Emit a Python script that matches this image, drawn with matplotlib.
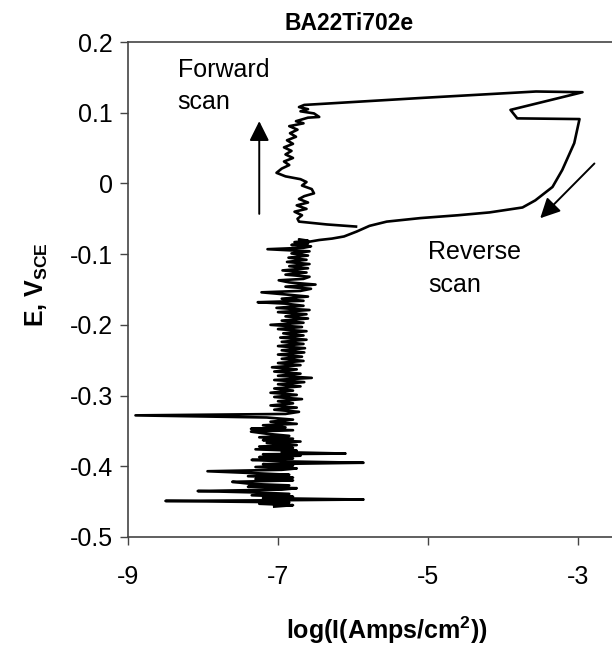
import matplotlib
matplotlib.use('Agg')
import matplotlib.pyplot as plt

# polarisation scan, potential (V vs SCE) and log current density
# lower noisy column, read bottom -> top
e_column = [-0.457, -0.455, -0.453, -0.451, -0.449, -0.448, -0.447, -0.445, -0.443, -0.441,
            -0.439, -0.437, -0.435, -0.433, -0.431, -0.429, -0.427, -0.425, -0.422, -0.420,
            -0.418, -0.416, -0.414, -0.412, -0.410, -0.407, -0.405, -0.403, -0.401, -0.399,
            -0.397, -0.395, -0.393, -0.391, -0.389, -0.387, -0.385, -0.383, -0.382, -0.380,
            -0.378, -0.376, -0.374, -0.372, -0.370, -0.367, -0.365, -0.363, -0.361, -0.359,
            -0.357, -0.354, -0.351, -0.349, -0.347, -0.345, -0.342, -0.340, -0.337, -0.334,
            -0.331, -0.328, -0.326, -0.323, -0.320, -0.317, -0.314, -0.311, -0.308, -0.305,
            -0.302, -0.299, -0.296, -0.293, -0.290, -0.287, -0.284, -0.281, -0.278, -0.275,
            -0.272, -0.269, -0.266, -0.263, -0.260, -0.257, -0.254, -0.251, -0.248, -0.245,
            -0.242, -0.239, -0.236, -0.233, -0.230, -0.227, -0.224, -0.221, -0.218, -0.215,
            -0.212, -0.209, -0.206, -0.203, -0.200, -0.197, -0.194, -0.191, -0.188, -0.185,
            -0.182, -0.179, -0.176, -0.173, -0.170, -0.168, -0.166, -0.163, -0.160, -0.157,
            -0.154, -0.152, -0.149, -0.146, -0.143, -0.140, -0.137, -0.135, -0.132, -0.129,
            -0.126, -0.123, -0.120, -0.117, -0.114, -0.111, -0.108, -0.105, -0.102, -0.099,
            -0.096, -0.093, -0.091, -0.089, -0.087, -0.085, -0.083, -0.081, -0.079]
i_column = [-7.05, -6.80, -7.25, -6.85, -8.50, -6.95, -5.86, -7.20, -6.80, -7.35,
            -6.85, -7.30, -8.07, -6.95, -6.75, -7.40, -6.85, -7.35, -7.61, -6.80,
            -7.30, -6.80, -7.40, -6.85, -7.25, -7.94, -6.95, -6.75, -7.30, -6.80,
            -7.20, -5.86, -6.95, -7.35, -6.80, -7.25, -6.70, -7.20, -6.10, -6.95,
            -6.75, -7.30, -6.80, -7.25, -6.75, -7.15, -6.70, -7.20, -6.80, -7.25,
            -6.85, -7.15, -7.36, -6.80, -7.36, -6.90, -7.20, -6.75, -7.10, -6.80,
            -7.15, -8.90, -6.90, -6.72, -7.05, -6.75, -7.10, -6.80, -7.00, -6.68,
            -7.05, -6.75, -7.10, -6.80, -7.05, -6.70, -7.00, -6.65, -7.05, -6.55,
            -7.00, -6.70, -7.05, -6.75, -7.08, -6.70, -7.00, -6.66, -6.95, -6.68,
            -7.00, -6.65, -6.95, -6.64, -7.00, -6.66, -6.95, -6.62, -6.97, -6.66,
            -6.93, -6.62, -7.00, -6.68, -7.10, -6.66, -6.95, -6.60, -6.90, -6.62,
            -7.00, -6.58, -7.02, -6.66, -6.90, -7.27, -6.66, -6.95, -6.60, -6.90,
            -7.22, -6.70, -6.56, -6.90, -6.50, -6.85, -6.99, -6.66, -6.58, -6.90,
            -6.62, -6.94, -6.60, -6.85, -6.58, -6.88, -6.62, -6.86, -6.60, -6.82,
            -6.58, -7.14, -6.66, -6.56, -6.82, -6.60, -6.78, -6.60, -6.72]

# hysteresis loop, from top of the column round to the end of the scan
e_loop = [-0.084, -0.080, -0.078, -0.075, -0.068, -0.060, -0.054, -0.049, -0.045, -0.041,
          -0.034, -0.024, -0.005, 0.019, 0.057, 0.091, 0.092, 0.104, 0.129, 0.130,
          0.121, 0.111, 0.108, 0.105, 0.102, 0.099, 0.094, 0.093, 0.088, 0.085,
          0.081, 0.076, 0.071, 0.066, 0.061, 0.056, 0.051, 0.046, 0.041, 0.036,
          0.031, 0.026, 0.021, 0.015, 0.010, 0.006, 0.002, -0.003, -0.008, -0.014,
          -0.018, -0.022, -0.027, -0.031, -0.036, -0.040, -0.045, -0.050, -0.054, -0.058,
          -0.061]
i_loop = [-6.67, -6.45, -6.28, -6.12, -5.95, -5.78, -5.55, -5.10, -4.60, -4.18,
          -3.74, -3.57, -3.34, -3.21, -3.05, -2.98, -3.81, -3.90, -2.94, -3.56,
          -5.07, -6.65, -6.72, -6.60, -6.70, -6.52, -6.45, -6.60, -6.76, -6.66,
          -6.85, -6.74, -6.84, -6.76, -6.88, -6.80, -6.92, -6.82, -6.90, -6.80,
          -6.92, -6.85, -6.95, -7.02, -6.90, -6.70, -6.62, -6.68, -6.55, -6.52,
          -6.65, -6.72, -6.60, -6.75, -6.62, -6.78, -6.68, -6.74, -6.72, -6.35,
          -5.96]

x_ticks = [-9, -7, -5, -3]
y_ticks = [-0.5, -0.4, -0.3, -0.2, -0.1, 0, 0.1, 0.2]
y_labels = ['-0.5', '-0.4', '-0.3', '-0.2', '-0.1', '0', '0.1', '0.2']

plt.rcParams['font.family'] = ['Liberation Sans', 'DejaVu Sans']
plt.rcParams['mathtext.fontset'] = 'custom'
plt.rcParams['mathtext.rm'] = 'Liberation Sans'
plt.rcParams['mathtext.bf'] = 'Liberation Sans:bold'
plt.rcParams['axes.unicode_minus'] = False

fig = plt.figure(figsize=(6.12, 6.47), dpi=100)
ax = fig.add_axes([128 / 612, 1 - 537 / 647, (612 - 128) / 612, (537 - 42) / 647])

ax.plot(i_column + i_loop, e_column + e_loop, color='black', lw=1.9)

ax.set_xlim(-9, -9 + 484 / 75)
ax.set_ylim(-0.5, 0.2)
ax.set_xticks(x_ticks)
ax.set_xticklabels([str(t) for t in x_ticks])
ax.set_yticks(y_ticks)
ax.set_yticklabels(y_labels)
ax.tick_params(labelsize=18, length=6, width=1, color='#444444')
ax.tick_params(axis='x', pad=14)
ax.tick_params(axis='y', pad=5)
ax.spines['right'].set_visible(False)
for s in ['left', 'bottom', 'top']:
    ax.spines[s].set_color('#444444')
    ax.spines[s].set_linewidth(1.2)

# arrows and notes
ax.annotate('', xy=(-7.25, 0.092), xytext=(-7.25, -0.047),
            arrowprops=dict(arrowstyle='-|>,head_length=0.6,head_width=0.3',
                            mutation_scale=20, color='black', lw=1.4))
ax.annotate('', xy=(-3.53, -0.052), xytext=(-2.755, 0.031),
            arrowprops=dict(arrowstyle='-|>,head_length=0.6,head_width=0.3',
                            mutation_scale=20, color='black', lw=1.4))
ax.text(-8.34, 0.178, 'Forward\nscan', fontsize=18, va='top', ha='left', linespacing=1.45)
ax.text(-5.0, -0.08, 'Reverse\nscan', fontsize=18, va='top', ha='left', linespacing=1.45)

fig.text(349 / 612, 1 - 23 / 647, 'BA22Ti702e', fontsize=16.5, fontweight='bold',
         ha='center', va='center')
fig.text(387 / 612, 1 - 630 / 647, 'log(I(Amps/cm$^\\mathbf{2}$))', fontsize=18,
         fontweight='bold', ha='center', va='center')
fig.text(37 / 612, 1 - 285 / 647, 'E, V$_\\mathbf{SCE}$', fontsize=18,
         fontweight='bold', ha='center', va='center', rotation=90)

fig.savefig('out.png', dpi=100)
plt.close(fig)
